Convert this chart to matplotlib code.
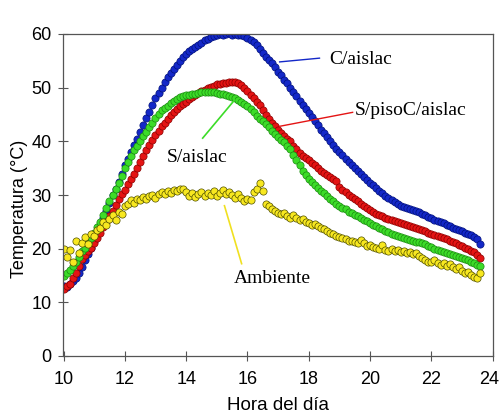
import numpy as np
import matplotlib
matplotlib.use("Agg")
import matplotlib.pyplot as plt
from matplotlib.transforms import ScaledTranslation

hours = np.round(np.linspace(10.0, 23.6, 137), 2)

c_aislac = [
13.0, 12.8, 13.5, 14.0, 14.5, 15.5, 16.5, 17.8, 19.0, 20.2,
21.5, 23.0, 24.5, 25.8, 27.0, 28.5, 30.0, 31.2, 32.5, 34.0,
35.5, 36.8, 38.0, 39.3, 40.5, 41.8, 43.0, 44.3, 45.5, 46.8,
48.0, 49.0, 50.0, 51.0, 52.0, 52.8, 53.5, 54.3, 55.0, 55.7,
56.3, 56.8, 57.2, 57.6, 58.0, 58.4, 58.8, 59.1, 59.4, 59.6,
59.8, 60.0, 59.9, 60.0, 60.1, 59.9, 60.0, 59.8, 59.8, 59.6,
59.3, 58.9, 58.5, 57.9, 57.2, 56.5, 55.8, 55.2, 54.6, 53.8,
53.0, 52.3, 51.5, 50.8, 50.0, 49.2, 48.4, 47.6, 46.8, 46.0,
45.2, 44.5, 43.7, 43.0, 42.2, 41.5, 40.8, 40.0, 39.3, 38.6,
38.0, 37.4, 36.8, 36.2, 35.6, 35.0, 34.5, 33.9, 33.3, 32.8,
32.3, 31.8, 31.3, 30.8, 30.3, 29.9, 29.5, 29.1, 28.7, 28.3,
28.0, 27.7, 27.5, 27.3, 27.2, 27.0, 26.8, 26.5, 26.2, 25.9,
25.7, 25.4, 25.2, 25.0, 24.8, 24.5, 24.3, 23.9, 23.6, 23.4,
23.2, 22.9, 22.7, 22.5, 22.2, 21.8, 20.8]

s_pisoc_aislac = [
12.5, 13.0, 13.5, 14.5, 15.5, 16.8, 18.0, 18.8, 19.5, 20.2,
21.0, 22.0, 23.0, 24.0, 25.0, 26.0, 27.0, 28.1, 29.2, 30.1,
31.0, 32.0, 33.0, 34.0, 35.0, 36.2, 37.3, 38.3, 39.3, 40.3,
41.2, 42.0, 42.8, 43.5, 44.2, 44.9, 45.5, 46.0, 46.5, 46.9,
47.3, 47.8, 48.2, 48.6, 49.0, 49.3, 49.6, 49.9, 50.2, 50.4,
50.6, 50.7, 50.8, 50.9, 51.0, 51.1, 51.0, 50.8, 50.5, 50.0,
49.3, 48.6, 48.0, 47.4, 46.8, 45.9, 45.0, 44.2, 43.5, 42.8,
42.2, 41.6, 41.0, 40.5, 40.0, 39.2, 38.5, 37.9, 37.3, 36.9,
36.5, 36.0, 35.5, 35.0, 34.5, 34.1, 33.7, 33.3, 33.0, 32.6,
31.5, 31.0, 30.5, 30.0, 29.6, 29.2, 28.8, 28.4, 28.0, 27.6,
27.2, 26.8, 26.5, 26.2, 26.0, 25.7, 25.5, 25.3, 25.2, 25.0,
24.8, 24.6, 24.4, 24.2, 24.0, 23.8, 23.6, 23.4, 23.2, 23.0,
22.8, 22.6, 22.4, 22.2, 22.0, 21.8, 21.5, 21.2, 21.0, 20.7,
20.5, 20.2, 20.0, 19.6, 19.3, 18.9, 18.3]

s_aislac = [
15.0, 15.5, 16.0, 16.8, 17.5, 18.5, 19.5, 20.2, 21.0, 22.0,
23.0, 24.0, 25.0, 26.3, 27.5, 28.8, 30.0, 31.1, 32.2, 33.6,
35.0, 36.2, 37.3, 38.3, 39.2, 40.1, 41.0, 41.8, 42.6, 43.5,
44.3, 45.1, 45.8, 46.2, 46.6, 47.1, 47.5, 47.9, 48.2, 48.4,
48.6, 48.7, 48.8, 48.9, 49.0, 49.1, 49.2, 49.2, 49.2, 49.1,
49.0, 48.9, 48.8, 48.6, 48.4, 48.2, 48.0, 47.7, 47.4, 47.0,
46.6, 46.0, 45.4, 44.8, 44.2, 43.7, 43.2, 42.6, 42.0, 41.4,
40.8, 40.3, 39.8, 39.2, 38.6, 37.5, 36.5, 35.5, 34.5, 33.7,
33.0, 32.4, 31.8, 31.3, 30.8, 30.3, 29.8, 29.3, 28.8, 28.4,
28.0, 27.6, 27.3, 26.9, 26.6, 26.3, 26.0, 25.7, 25.4, 25.1,
24.8, 24.5, 24.2, 23.9, 23.6, 23.3, 23.1, 22.8, 22.6, 22.4,
22.2, 22.0, 21.8, 21.6, 21.5, 21.3, 21.2, 21.0, 20.8, 20.5,
20.3, 20.0, 19.8, 19.6, 19.4, 19.2, 19.0, 18.8, 18.6, 18.4,
18.2, 18.0, 17.8, 17.5, 17.3, 17.0, 16.8]

ambiente = [
20.0, 18.5, 19.8, 17.5, 21.5, 19.2, 21.0, 22.2, 20.8, 22.8,
22.3, 23.5, 23.9, 25.0, 24.4, 25.6, 26.2, 25.3, 26.9, 26.4,
28.0, 28.4, 29.1, 28.6, 29.3, 29.0, 29.6, 29.2, 29.8, 30.0,
29.5, 30.2, 30.6, 30.1, 30.8, 30.4, 31.0, 30.7, 31.2, 31.1,
30.5, 29.8, 30.3, 29.6, 30.2, 30.6, 29.9, 30.4, 30.0, 30.7,
29.8, 30.3, 30.9, 30.2, 30.5, 30.0, 29.4, 30.1, 29.5, 28.8,
29.3, 29.0, 30.5, 31.2, 32.2, 30.8, 28.4, 27.9, 27.4, 27.0,
26.7, 26.4, 26.6, 26.0, 25.8, 26.2, 25.7, 25.4, 25.6, 25.0,
24.8, 24.5, 24.6, 24.2, 23.9, 23.6, 23.3, 23.0, 22.8, 22.4,
22.1, 22.0, 21.8, 21.5, 21.4, 21.2, 21.1, 21.6, 21.0, 20.5,
20.7, 20.4, 20.2, 20.0, 20.6, 19.8, 19.6, 20.0, 19.5, 19.7,
19.4, 19.6, 19.2, 19.3, 19.0, 19.1, 18.6, 18.2, 17.9, 17.6,
17.5, 17.8, 17.3, 17.0, 17.4, 16.8, 17.1, 16.5, 16.3, 16.6,
15.9, 15.5, 15.7, 15.1, 14.8, 14.6, 15.5]

x_ticks = [10, 12, 14, 16, 18, 20, 22, 24]
y_ticks = [0, 10, 20, 30, 40, 50, 60]

fig = plt.figure(figsize=(5.01, 4.13), dpi=100)
ax = fig.add_axes([63.5/501, 1-356/413, (492.7-63.5)/501, (356-34)/413])

series = [
    (c_aislac, '#1428C8', '#00107A'),
    (s_pisoc_aislac, '#E41414', '#8A0000'),
    (s_aislac, '#3CDC28', '#1A8A10'),
    (ambiente, '#F8E820', '#505000'),
]
for vals, fc, ec in series:
    ax.plot(hours, vals, linestyle='none', marker='o', markersize=5.2,
            markerfacecolor=fc, markeredgecolor=ec, markeredgewidth=0.5)

ax.set_xlim(10, 24)
ax.set_ylim(0, 60)
ax.set_xticks(x_ticks)
ax.set_yticks(y_ticks)
tickfont = dict(family='Liberation Sans', size=13)
ax.set_xticklabels([str(v) for v in x_ticks], **tickfont)
ax.set_yticklabels([str(v) for v in y_ticks], **tickfont)
ax.tick_params(direction='inout', length=7, width=0.8, color='#555555')
ax.tick_params(axis='x', pad=7)
ax.tick_params(axis='y', pad=5)
for sp in ax.spines.values():
    sp.set_color('#555555')
    sp.set_linewidth(0.9)

last = ax.get_xticklabels()[-1]
last.set_transform(last.get_transform() + ScaledTranslation(-4/100, 0, fig.dpi_scale_trans))

fig.text((63.5 + 492.7) / 2 / 501, 1-405/413, 'Hora del día', family='Liberation Sans',
         size=13.5, ha='center', va='center')
fig.text(20/501, 1-209/413, 'Temperatura (°C)', family='Liberation Sans', size=13,
         rotation=90, ha='center', va='center')

serif = dict(family='Liberation Serif', size=14)
# C/aislac
ax.plot([17.05, 18.35], [54.8, 55.5], color='#1428C8', lw=1)
ax.text(18.68, 55.3, 'C/aislac', ha='left', va='center', **serif)
# S/pisoC/aislac
ax.plot([17.05, 19.43], [42.8, 45.4], color='#E41414', lw=1)
ax.text(19.5, 45.8, 'S/pisoC/aislac', ha='left', va='center', **serif)
# S/aislac
ax.plot([14.54, 15.58], [40.6, 47.7], color='#3CDC28', lw=1.2)
ax.text(14.37, 37.0, 'S/aislac', ha='center', va='center', **serif)
# Ambiente
ax.plot([15.25, 15.81], [28.0, 17.2], color='#F0E020', lw=1.2)
ax.text(16.82, 14.4, 'Ambiente', ha='center', va='center', **serif)

fig.savefig('out.png', dpi=100)
